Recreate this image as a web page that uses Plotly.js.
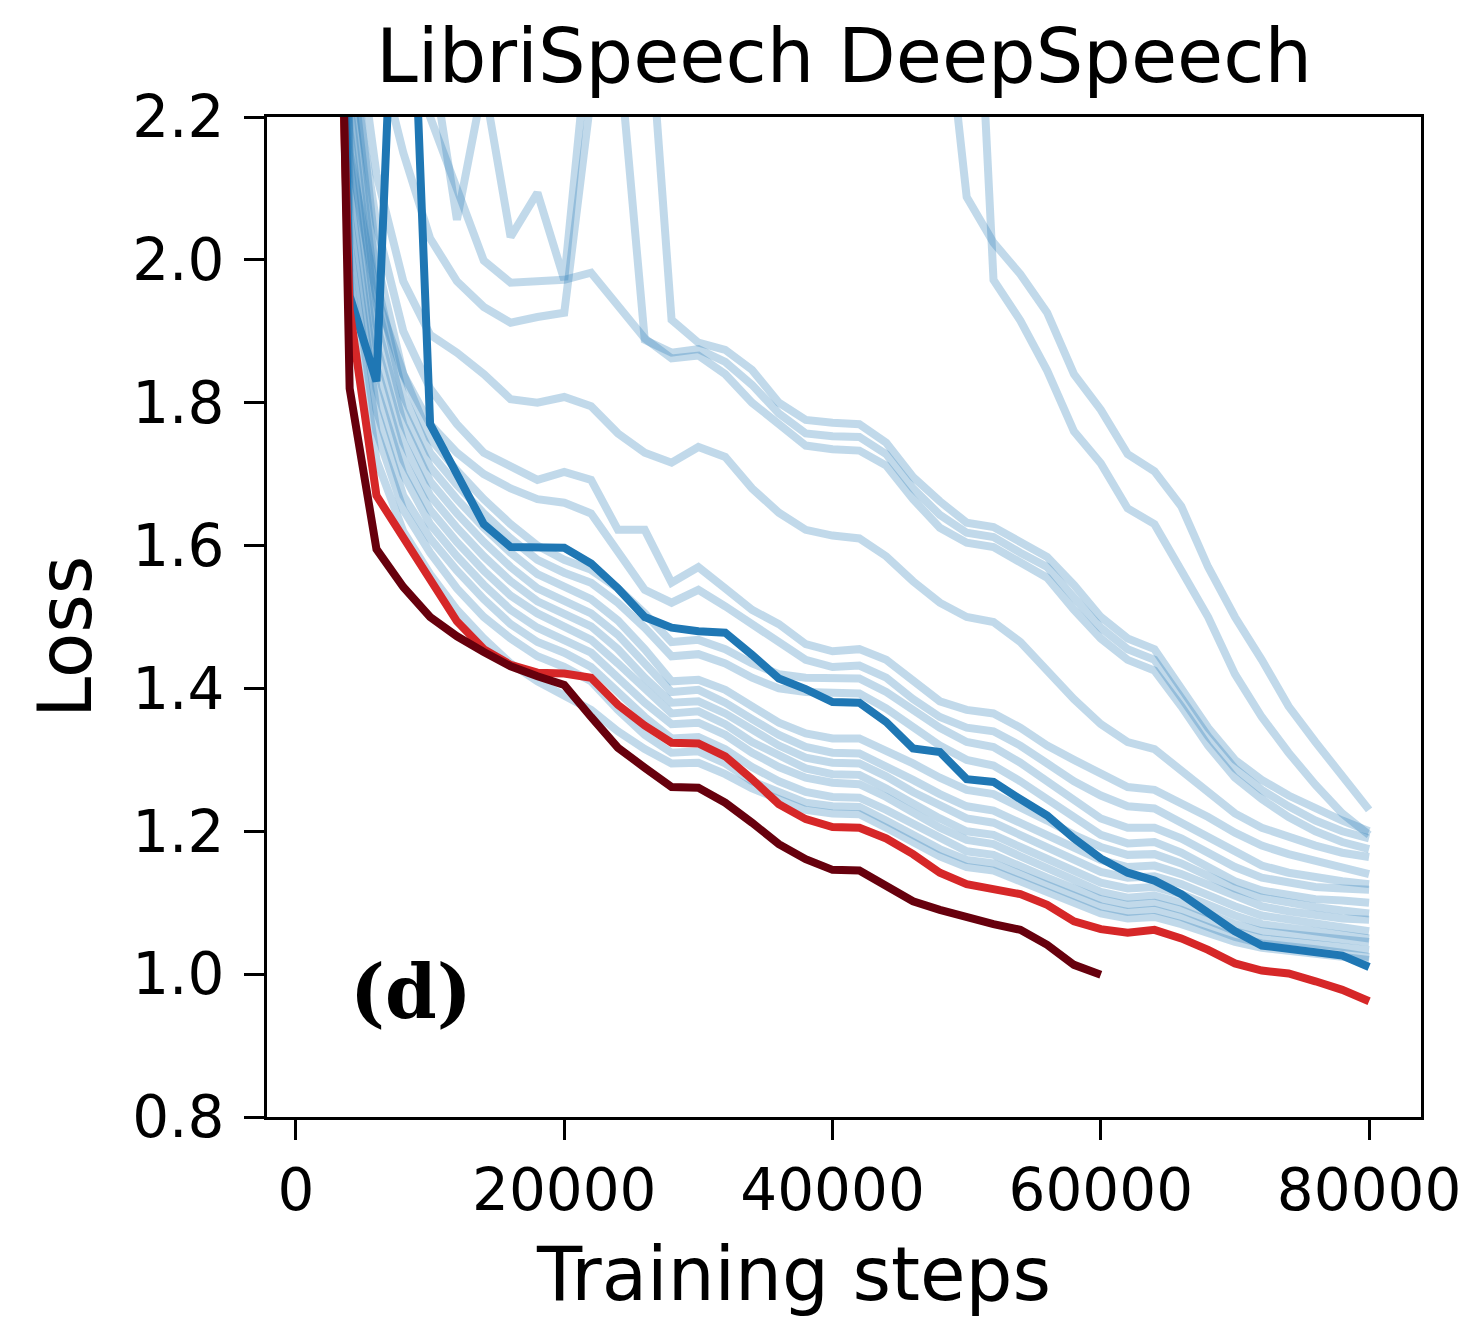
<!DOCTYPE html>
<html>
<head>
<meta charset="utf-8">
<script src="https://cdn.plot.ly/plotly-3.0.1.min.js"></script>
<style>html,body{margin:0;padding:0;background:#fff;}#chart{width:1470px;height:1323px;}</style>
</head>
<body>
<div id="chart"></div>
<script>
// ---- data (training steps, loss) ----
const steps = [2000,4000,6000,8000,10000,12000,14000,16000,18000,20000,
  22000,24000,26000,28000,30000,32000,34000,36000,38000,40000,
  42000,44000,46000,48000,50000,52000,54000,56000,58000,60000,
  62000,64000,66000,68000,70000,72000,74000,76000,78000,80000];

const xTickVals = [0, 20000, 40000, 60000, 80000];
const xTickText = ["0", "20000", "40000", "60000", "80000"];
const yTickVals = [0.8, 1.0, 1.2, 1.4, 1.6, 1.8, 2.0, 2.2];
const yTickText = ["0.8", "1.0", "1.2", "1.4", "1.6", "1.8", "2.0", "2.2"];

const titleText = "LibriSpeech DeepSpeech";
const xLabel = "Training steps";
const yLabel = "Loss";
const panelTag = "(d)";

// highlighted runs
const darkRedRun = [3.7,1.82,1.595,1.542,1.50,1.473,1.451,1.431,1.417,1.405,
  1.36,1.317,1.289,1.262,1.261,1.24,1.212,1.182,1.161,1.146,
  1.145,1.123,1.102,1.09,1.079,1.07,1.062,1.041,1.013,0.999,
  null,null,null,null,null,null,null,null,null,null];
const redRun = [3.2,1.93,1.67,1.61,1.55,1.494,1.455,1.433,1.422,1.421,
  1.415,1.377,1.348,1.324,1.323,1.305,1.273,1.238,1.217,1.206,
  1.205,1.19,1.168,1.142,1.126,1.12,1.112,1.097,1.074,1.063,
  1.058,1.062,1.05,1.034,1.015,1.005,1.001,0.99,0.978,0.962];
const darkBlueRun = [3.6,1.95,1.83,2.74,1.77,1.697,1.63,1.598,1.597,1.597,
  1.575,1.54,1.50,1.485,1.48,1.478,1.447,1.414,1.399,1.381,
  1.38,1.353,1.316,1.311,1.273,1.269,1.245,1.222,1.19,1.162,
  1.142,1.131,1.112,1.085,1.06,1.04,1.035,1.032,1.026,1.01];

// other runs (faint)
const lateA = [null,null,null,null,null,null,null,null,null,null,
  null,null,null,null,null,null,null,null,null,null,
  null,null,null,2.43,2.088,2.024,1.98,1.926,1.84,1.79,
  1.728,1.704,1.655,1.57,1.50,1.44,1.375,1.325,1.278,1.23];
const lateB = [null,null,null,null,null,null,null,null,null,null,
  null,null,null,null,null,null,null,null,null,null,
  null,null,null,null,2.73,1.972,1.915,1.845,1.76,1.715,
  1.652,1.63,1.565,1.50,1.42,1.36,1.31,1.265,1.225,1.195];
const spikyUpper = [3.9,2.8,2.6,2.45,2.3,2.056,2.25,2.032,2.094,1.972,
  2.35,2.5,2.43,1.916,1.884,1.874,1.846,1.80,1.776,1.772,
  1.77,1.744,1.696,1.662,1.632,1.626,1.605,1.584,1.545,1.50,
  1.47,1.455,1.40,1.345,1.30,1.272,1.25,1.232,1.215,1.20];
const plateauRun = [3.9,2.7,2.45,2.3,2.2,2.10,1.999,1.968,1.97,1.972,
  1.982,1.935,1.89,1.862,1.866,1.84,1.80,1.77,1.74,1.735,
  1.733,1.712,1.665,1.625,1.604,1.598,1.578,1.555,1.51,1.47,
  1.44,1.425,1.375,1.32,1.275,1.245,1.22,1.20,1.185,1.175];
const spikyLower = [3.9,2.5,2.3,2.15,2.03,1.97,1.934,1.912,1.92,1.926,
  2.23,2.31,1.888,1.87,1.875,1.857,1.825,1.785,1.757,1.753,
  1.752,1.728,1.68,1.643,1.618,1.612,1.59,1.57,1.527,1.485,
  1.455,1.44,1.387,1.333,1.288,1.258,1.235,1.215,1.20,1.19];
const midRun = [3.9,2.4,2.12,1.97,1.895,1.87,1.84,1.805,1.80,1.808,
  1.795,1.757,1.73,1.716,1.738,1.724,1.68,1.646,1.622,1.614,
  1.61,1.585,1.55,1.52,1.50,1.493,1.465,1.425,1.385,1.35,
  1.325,1.315,1.285,1.255,1.225,1.205,1.192,1.18,1.17,1.164];
const zigzagA = [3.8,2.3,2.05,1.9,1.82,1.77,1.73,1.71,1.692,1.703,
  1.692,1.622,1.622,1.548,1.57,1.54,1.51,1.49,1.462,1.452,
  1.455,1.44,1.41,1.382,1.37,1.365,1.345,1.32,1.30,1.28,
  1.262,1.258,1.24,1.22,1.198,1.18,1.168,1.158,1.148,1.14];
const zigzagB = [3.7,2.15,1.95,1.84,1.77,1.73,1.70,1.68,1.665,1.66,
  1.645,1.59,1.538,1.52,1.538,1.515,1.49,1.465,1.44,1.43,
  1.432,1.415,1.385,1.36,1.345,1.34,1.32,1.295,1.27,1.25,
  1.235,1.232,1.212,1.19,1.17,1.152,1.142,1.135,1.13,1.126];
const band1 = [3.5,1.98,1.72,1.62,1.56,1.51,1.47,1.435,1.41,1.39,
  1.37,1.34,1.315,1.295,1.296,1.28,1.26,1.245,1.23,1.225,
  1.224,1.205,1.185,1.165,1.15,1.145,1.13,1.115,1.10,1.085,
  1.078,1.08,1.07,1.058,1.045,1.037,1.033,1.028,1.024,1.02];
const band2 = [3.6,2.02,1.76,1.65,1.59,1.54,1.50,1.47,1.445,1.43,
  1.41,1.37,1.335,1.31,1.312,1.295,1.27,1.255,1.24,1.235,
  1.234,1.215,1.195,1.175,1.16,1.155,1.14,1.125,1.11,1.095,
  1.087,1.09,1.08,1.066,1.052,1.043,1.04,1.035,1.03,1.024];
const band3 = [3.6,2.06,1.79,1.67,1.61,1.565,1.525,1.49,1.465,1.45,
  1.43,1.395,1.36,1.33,1.332,1.315,1.29,1.27,1.255,1.248,
  1.247,1.23,1.21,1.19,1.172,1.167,1.15,1.135,1.12,1.105,
  1.097,1.10,1.09,1.075,1.06,1.05,1.046,1.042,1.037,1.034];
const band4 = [3.7,2.1,1.82,1.70,1.63,1.585,1.545,1.51,1.485,1.468,
  1.45,1.415,1.38,1.35,1.352,1.335,1.31,1.29,1.275,1.268,
  1.266,1.248,1.225,1.205,1.188,1.182,1.165,1.15,1.132,1.115,
  1.107,1.11,1.10,1.085,1.07,1.06,1.056,1.052,1.048,1.045];
const band5 = [3.7,2.14,1.85,1.72,1.65,1.605,1.565,1.53,1.505,1.486,
  1.468,1.435,1.40,1.365,1.368,1.35,1.325,1.305,1.288,1.28,
  1.279,1.26,1.238,1.218,1.20,1.195,1.178,1.162,1.145,1.128,
  1.12,1.122,1.112,1.097,1.082,1.07,1.065,1.06,1.055,1.05];
const band6 = [3.8,2.18,1.88,1.745,1.67,1.625,1.585,1.55,1.522,1.505,
  1.487,1.455,1.415,1.38,1.382,1.365,1.342,1.32,1.303,1.296,
  1.295,1.277,1.255,1.235,1.218,1.212,1.195,1.178,1.16,1.143,
  1.135,1.137,1.126,1.11,1.095,1.082,1.076,1.07,1.065,1.06];
const band7 = [3.8,2.22,1.91,1.77,1.69,1.645,1.605,1.57,1.54,1.524,
  1.505,1.475,1.435,1.395,1.398,1.38,1.357,1.335,1.318,1.31,
  1.309,1.292,1.272,1.252,1.235,1.229,1.212,1.195,1.177,1.16,
  1.15,1.152,1.14,1.124,1.108,1.095,1.088,1.082,1.078,1.076];
const band8 = [3.9,2.26,1.94,1.79,1.71,1.665,1.625,1.59,1.56,1.542,
  1.525,1.495,1.455,1.41,1.412,1.398,1.375,1.352,1.337,1.33,
  1.33,1.313,1.295,1.275,1.258,1.252,1.235,1.215,1.195,1.178,
  1.167,1.168,1.155,1.138,1.12,1.107,1.10,1.094,1.089,1.085];
const band9 = [3.9,2.3,1.97,1.81,1.73,1.685,1.645,1.61,1.58,1.562,
  1.548,1.52,1.485,1.445,1.448,1.435,1.415,1.40,1.395,1.395,
  1.393,1.372,1.345,1.32,1.30,1.292,1.27,1.245,1.218,1.195,
  1.183,1.185,1.17,1.15,1.13,1.117,1.11,1.105,1.103,1.10];
const band10 = [4.0,2.35,2.0,1.84,1.75,1.705,1.665,1.63,1.60,1.58,
  1.566,1.54,1.505,1.465,1.468,1.455,1.435,1.42,1.415,1.415,
  1.414,1.395,1.37,1.345,1.325,1.318,1.296,1.27,1.243,1.218,
  1.205,1.205,1.19,1.17,1.15,1.135,1.128,1.122,1.12,1.118];

const fadedRuns = [lateA, lateB, spikyUpper, plateauRun, spikyLower, midRun,
  zigzagA, zigzagB, band1, band2, band3, band4, band5, band6, band7, band8, band9, band10];

// ---- traces ----
const traces = [];
fadedRuns.forEach(function (vals) {
  traces.push({x: steps, y: vals, type: 'scatter', mode: 'lines',
    line: {color: 'rgba(31,119,180,0.28)', width: 8}, hoverinfo: 'skip'});
});
traces.push({x: steps, y: darkBlueRun, type: 'scatter', mode: 'lines',
  line: {color: '#1f77b4', width: 8}});
traces.push({x: steps, y: redRun, type: 'scatter', mode: 'lines',
  line: {color: '#d62728', width: 8}});
traces.push({x: steps, y: darkRedRun, type: 'scatter', mode: 'lines',
  line: {color: '#67000d', width: 8}});

const FONT = 'DejaVu Sans, sans-serif';
const axisCommon = {
  showline: true, linecolor: '#000', linewidth: 3, mirror: true,
  ticks: 'outside', ticklen: 20, tickwidth: 3, tickcolor: '#000',
  showgrid: false, zeroline: false,
  tickfont: {family: FONT, size: 58, color: '#000'}
};

const layout = {
  width: 1470, height: 1323,
  margin: {l: 267, r: 49, t: 117, b: 206},
  paper_bgcolor: '#fff', plot_bgcolor: '#fff',
  showlegend: false,
  font: {family: FONT, color: '#000'},
  title: {text: titleText, font: {family: FONT, size: 75, color: '#000'},
    xref: 'paper', x: 0.5, xanchor: 'center',
    yref: 'container', y: 0.958, yanchor: 'middle'},
  xaxis: Object.assign({}, axisCommon, {
    range: [-2160, 83870], tickvals: xTickVals, ticktext: xTickText,
    ticklabelstandoff: 0
  }),
  yaxis: Object.assign({}, axisCommon, {
    range: [0.8, 2.2], tickvals: yTickVals, ticktext: yTickText,
    ticklabelstandoff: 8
  }),
  annotations: [
    {text: xLabel, xref: 'paper', yref: 'paper', x: 0.456, y: -0.157,
      xanchor: 'center', yanchor: 'middle', showarrow: false,
      font: {family: FONT, size: 74, color: '#000'}},
    {text: yLabel, xref: 'paper', yref: 'paper', x: -0.175, y: 0.48,
      xanchor: 'center', yanchor: 'middle', showarrow: false, textangle: -90,
      font: {family: FONT, size: 74, color: '#000'}},
    {text: '<b>' + panelTag + '</b>', xref: 'x', yref: 'y', x: 8570, y: 0.975,
      xanchor: 'center', yanchor: 'middle', showarrow: false,
      font: {family: 'DejaVu Serif, serif', size: 74, color: '#000'}}
  ]
};

Plotly.newPlot('chart', traces, layout, {displayModeBar: false, staticPlot: true});
</script>
</body>
</html>
